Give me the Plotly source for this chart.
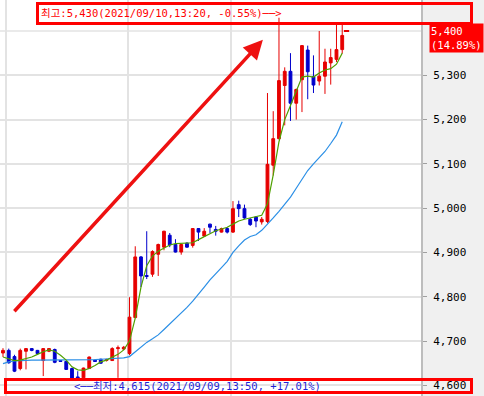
import plotly.graph_objects as go

# ---- data (10-minute candles) ----
opens = [4673, 4679, 4665, 4638, 4677, 4683, 4679, 4656, 4677, 4681,
         4656, 4654, 4638, 4619, 4617, 4638, 4657, 4659, 4656, 4656,
         4683, 4682, 4672, 4753, 4890, 4848, 4851, 4896, 4912, 4939,
         4918, 4901, 4921, 4916, 4954, 4937, 4964, 4952, 4946, 4954,
         4946, 5008, 4999, 4975, 4980, 4969, 4970, 5097, 5157, 5277,
         5309, 5237, 5290, 5357, 5297, 5287, 5298, 5328, 5336, 5358]
highs = [4684, 4683, 4669, 4683, 4684, 4684, 4680, 4684, 4684, 4683,
         4657, 4655, 4640, 4632, 4640, 4665, 4658, 4660, 4660, 4686,
         4690, 4689, 4799, 4914, 4892, 4948, 4905, 4920, 4949, 4944,
         4930, 4919, 4923, 4955, 4955, 4955, 4965, 4960, 4956, 4957,
         5016, 5017, 5008, 4978, 4982, 4980, 5260, 5219, 5430, 5318,
         5350, 5270, 5368, 5367, 5345, 5400, 5360, 5360, 5420, 5420]
lows = [4664, 4649, 4630, 4634, 4636, 4677, 4670, 4621, 4675, 4650,
        4653, 4635, 4615, 4616, 4616, 4637, 4653, 4649, 4654, 4655,
        4617, 4680, 4668, 4752, 4822, 4840, 4845, 4847, 4905, 4912,
        4900, 4895, 4911, 4911, 4926, 4935, 4944, 4938, 4945, 4943,
        4944, 4980, 4976, 4960, 4957, 4963, 4966, 5074, 5155, 5187,
        5197, 5200, 5217, 5246, 5260, 5277, 5258, 5279, 5330, 5349]
closes = [4679, 4651, 4632, 4679, 4683, 4679, 4672, 4683, 4683, 4652,
          4654, 4636, 4616, 4617, 4639, 4664, 4654, 4650, 4658, 4683,
          4685, 4686, 4754, 4890, 4847, 4846, 4902, 4918, 4948, 4917,
          4901, 4918, 4912, 4954, 4946, 4948, 4957, 4948, 4954, 4946,
          4999, 4999, 4978, 4963, 4971, 4975, 5099, 5157, 5288, 5309,
          5237, 5268, 5367, 5308, 5278, 5298, 5330, 5340, 5358, 5390]
ma_short = [4664, 4660, 4656, 4657, 4660, 4664, 4670, 4676, 4680, 4677,
            4668, 4657, 4642, 4635, 4634, 4638, 4645, 4653, 4657, 4663,
            4670, 4680, 4700, 4752, 4822, 4870, 4892, 4903, 4910, 4917,
            4920, 4921, 4921, 4922, 4929, 4936, 4943, 4949, 4953, 4957,
            4964, 4971, 4975, 4978, 4980, 4984, 5010, 5075, 5150, 5200,
            5232, 5265, 5296, 5298, 5296, 5305, 5312, 5315, 5325, 5350]
ma_long = [4649, 4653, 4655, 4656, 4657, 4657, 4657, 4657, 4657, 4657,
           4657, 4657, 4657, 4657, 4658, 4658, 4658, 4659, 4660, 4660,
           4661, 4662, 4665, 4676, 4688, 4697, 4705, 4714, 4726, 4738,
           4750, 4763, 4776, 4790, 4805, 4822, 4838, 4853, 4866, 4880,
           4900, 4915, 4928, 4936, 4940, 4950, 4963, 4978, 4993, 5010,
           5025, 5045, 5065, 5085, 5100, 5113, 5128, 5146, 5165, 5195]
y_ticks = [4600, 4700, 4800, 4900, 5000, 5100, 5200, 5300]
y_grid_extra = [5400]          # gridline hidden behind the price label
session_breaks = [0.47, 21.75, 39.65]
last_price = 5400
last_change = "14.89%"
high_text = "최고:5,430(2021/09/10,13:20, -0.55%)──>"
low_text = "<──최저:4,615(2021/09/09,13:50, +17.01%)"

idx = list(range(len(opens)))
MONO = "DejaVu Sans Mono, Noto Sans CJK KR"
RED = "#e60000"
BLUE = "#0000cc"
GRID = "#e3e3e3"

fig = go.Figure()
fig.add_trace(go.Candlestick(
    x=idx, open=opens, high=highs, low=lows, close=closes,
    increasing=dict(line=dict(color=RED, width=1), fillcolor=RED),
    decreasing=dict(line=dict(color=BLUE, width=1), fillcolor=BLUE),
    whiskerwidth=0, showlegend=False, hoverinfo="skip"))
fig.add_trace(go.Scatter(x=idx, y=ma_long, mode="lines",
                         line=dict(color="#2b8fe6", width=1.2),
                         showlegend=False, hoverinfo="skip"))
fig.add_trace(go.Scatter(x=idx, y=ma_short, mode="lines",
                         line=dict(color="#4fa000", width=1.2),
                         showlegend=False, hoverinfo="skip"))

W, H = 484, 396
PW = 421  # plot width in px

def px(xp):
    return xp / PW

def py(yp):
    return 1 - yp / H

for g in y_grid_extra:
    fig.add_shape(type="line", xref="paper", yref="y", x0=0, x1=1, y0=g, y1=g,
                  line=dict(color=GRID, width=1.5), layer="below")

# current price dash
fig.add_shape(type="line", xref="x", yref="y", x0=len(idx) - 0.7, x1=len(idx) + 0.2,
              y0=last_price, y1=last_price, line=dict(color=RED, width=2))

# high / low boxes
fig.add_shape(type="rect", xref="paper", yref="paper",
              x0=px(37.5), x1=px(471.5), y0=py(23.5), y1=py(3.5),
              line=dict(color="#ff0000", width=3), fillcolor="rgba(0,0,0,0)", layer="above")
fig.add_shape(type="rect", xref="paper", yref="paper",
              x0=px(5.5), x1=px(471.5), y0=py(392.5), y1=py(379.5),
              line=dict(color="#ff0000", width=3), fillcolor="rgba(0,0,0,0)", layer="above")

fig.add_annotation(xref="paper", yref="paper", x=px(39), y=py(13.5),
                   xanchor="left", yanchor="middle", showarrow=False,
                   text=high_text, font=dict(family=MONO, size=10.5, color="#ff0000"))
fig.add_annotation(xref="paper", yref="paper", x=px(72), y=py(385.5),
                   xanchor="left", yanchor="middle", showarrow=False,
                   text=low_text, font=dict(family=MONO, size=10.5, color="#1f1fd6"))

# price label on axis
fig.add_annotation(xref="paper", yref="paper", x=px(429), y=py(23),
                   xanchor="left", yanchor="top", showarrow=False, align="left",
                   text=f"{last_price:,}<br>({last_change})", bgcolor="#ff0000",
                   borderpad=1, font=dict(family=MONO, size=10.5, color="white"))

# big trend arrow
fig.add_annotation(x=45.2, y=5380, ax=1.74, ay=4764, xref="x", yref="y",
                   axref="x", ayref="y", text="", showarrow=True,
                   arrowhead=2, arrowsize=1.1, arrowwidth=3.5, arrowcolor="#ee1111",
                   standoff=0)

fig.update_layout(
    width=W, height=H, margin=dict(l=0, r=W - PW, t=0, b=0),
    paper_bgcolor="#f0f0f0", plot_bgcolor="white",
    xaxis=dict(range=[-0.52, 72.7], tickvals=session_breaks, showticklabels=False,
               showgrid=True, gridcolor=GRID, gridwidth=1.5, zeroline=False,
               rangeslider=dict(visible=False), ticks=""),
    yaxis=dict(side="right", range=[4576, 5470], tickvals=y_ticks, tickformat=",d",
               ticks="outside", ticklen=4, tickcolor="#a0a0a0", tickwidth=1,
               showline=True, linecolor="#bdbdbd", linewidth=2, mirror=False,
               showgrid=True, gridcolor=GRID, gridwidth=1.5, zeroline=False,
               tickfont=dict(family=MONO, size=11, color="black"), ticklabelstandoff=4),
)

fig.write_html("out.html")
